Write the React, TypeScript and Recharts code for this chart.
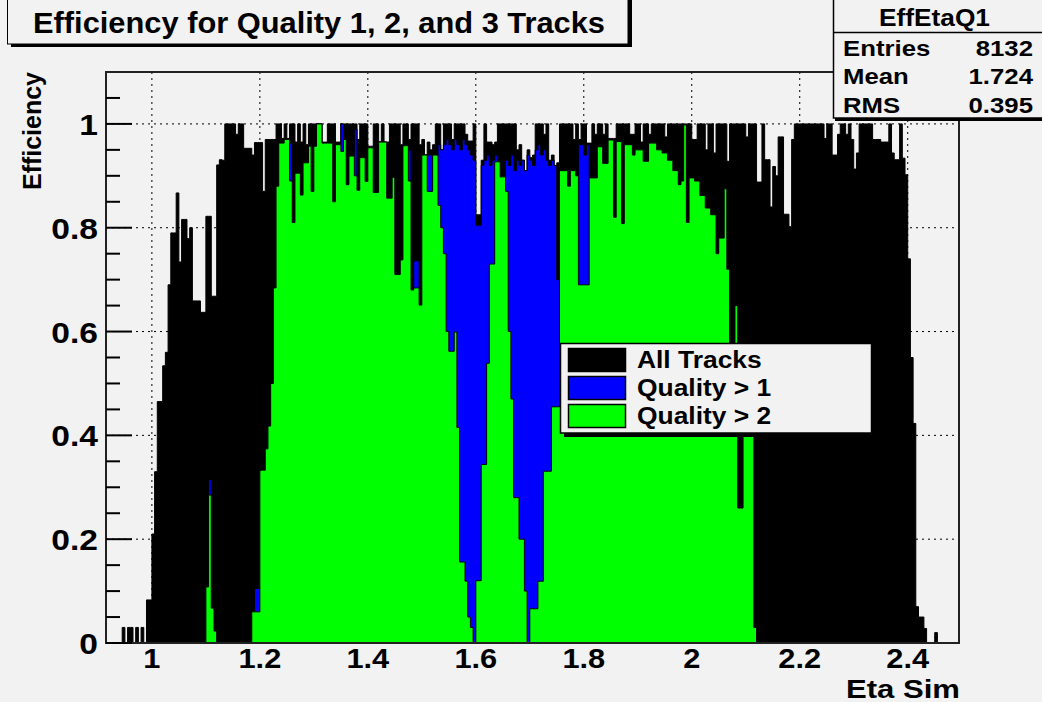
import React from 'react';
import { ComposedChart, Area, XAxis, YAxis, CartesianGrid, ReferenceArea } from 'recharts';

// Histogram binning (eta)
const BIN_START = 0.915;
const BIN_WIDTH = 0.005;
const X_END = 2.495;

// All Tracks efficiency per bin
const allTracks: number[] = [
  0, 0, 0, 0, 0, 0, 0.03, 0, 0.03, 0.03,
  0, 0.03, 0, 0.03, 0, 0.083, 0.083, 0.21, 0.33, 0.465,
  0.465, 0.534, 0.56, 0.69, 0.79, 0.79, 0.867, 0.734, 0.816, 0.816,
  0.779, 0.8, 0.659, 0.659, 0.659, 0.637, 0.637, 0.822, 0.822, 0.668,
  0.668, 0.921, 0.931, 0.93, 1, 1, 1, 1, 0.98, 1,
  1, 0.953, 0.953, 0.953, 0.94, 0.964, 0.964, 0.964, 0.87, 0.97,
  0.97, 0.97, 0.97, 1, 1, 0.972, 1, 0.972, 1, 1,
  0.965, 1, 0.965, 1, 0.96, 1, 1, 1, 1, 1,
  0.965, 0.965, 1, 1, 1, 0.965, 0.965, 1, 1, 1,
  1, 1, 1, 0.97, 1, 1, 1, 0.957, 0.957, 1,
  1, 0.965, 1, 0.965, 0.965, 1, 1, 1, 1, 0.96,
  1, 1, 0.97, 1, 1, 1, 0.96, 0.97, 0.94, 0.965,
  0.95, 0.96, 1, 1, 0.95, 1, 1, 1, 0.97, 1,
  1, 1, 1, 0.98, 0.967, 0.967, 1, 0.825, 0.825, 0.93,
  1, 0.965, 0.965, 0.96, 0.965, 1, 1, 1, 1, 1,
  1, 1, 0.95, 0.96, 0.93, 0.91, 0.95, 0.935, 0.94, 1,
  1, 1, 0.98, 1, 0.93, 0.94, 0.92, 0.925, 1, 1,
  1, 1, 1, 0.97, 1, 0.97, 1, 1, 0.963, 0.963,
  1, 0.98, 1, 1, 0.98, 1, 0.972, 0.972, 0.972, 1,
  1, 1, 1, 1, 0.98, 0.98, 1, 1, 0.965, 1,
  1, 0.98, 1, 1, 1, 1, 1, 0.975, 1, 1,
  1, 1, 1, 1, 1, 1, 1, 0.97, 0.97, 1,
  1, 1, 0.95, 1, 1, 0.944, 1, 1, 1, 1,
  0.928, 1, 1, 1, 1, 1, 1, 0.975, 1, 1,
  1, 0.888, 0.888, 1, 0.931, 0.931, 0.84, 0.918, 0.9, 0.975,
  0.975, 0.826, 0.826, 0.802, 0.97, 1, 1, 1, 1, 1,
  1, 1, 1, 1, 1, 1, 0.972, 1, 1, 0.94,
  0.94, 0.98, 1, 1, 0.98, 1, 0.97, 0.913, 0.944, 1,
  1, 1, 1, 1, 0.97, 0.97, 0.97, 0.965, 0.965, 0.965,
  1, 0.944, 0.931, 0.931, 1, 0.934, 0.902, 0.74, 0.55, 0.423,
  0.07, 0.05, 0.05, 0.028, 0, 0, 0, 0.02, 0, 0,
  0, 0, 0, 0, 0, 0,
];

// Quality > 1 efficiency per bin
const qualityAbove1: number[] = [
  0, 0, 0, 0, 0, 0, 0, 0, 0, 0,
  0, 0, 0, 0, 0, 0, 0, 0, 0, 0,
  0, 0, 0, 0, 0, 0, 0, 0, 0, 0,
  0, 0, 0, 0, 0, 0, 0, 0.108, 0.315, 0.067,
  0.023, 0, 0, 0, 0, 0, 0, 0, 0, 0,
  0, 0, 0, 0, 0.06, 0.105, 0.105, 0.333, 0.333, 0.374,
  0.418, 0.5, 0.684, 0.88, 0.963, 0.963, 0.97, 0.97, 0.963, 0.81,
  0.905, 0.905, 0.863, 0.925, 0.925, 0.957, 0.87, 0.957, 1, 1,
  0.963, 0.963, 0.963, 0.963, 0.85, 0.96, 0.96, 1, 0.97, 0.883,
  0.938, 0.938, 0.99, 0.872, 0.935, 0.935, 0.889, 0.954, 0.954, 0.868,
  0.868, 0.965, 0.965, 0.965, 0.857, 0.857, 0.897, 0.71, 0.71, 0.738,
  0.958, 0.958, 0.95, 0.68, 0.736, 0.736, 0.651, 0.94, 0.94, 0.94,
  0.94, 0.94, 0.94, 0.96, 0.95, 0.96, 0.97, 0.96, 0.95, 0.97,
  0.96, 0.95, 0.97, 0.96, 0.95, 0.94, 0.93, 0.805, 0.805, 0.92,
  0.93, 0.94, 0.92, 0.93, 0.94, 0.927, 0.898, 0.898, 0.93, 0.92,
  0.94, 0.91, 0.93, 0.92, 0.93, 0.91, 0.94, 0.93, 0.92, 0.95,
  0.96, 0.94, 0.95, 0.93, 0.92, 0.93, 0.92, 0.7, 0.91, 0.91,
  0.91, 0.88, 0.91, 0.91, 0.9, 0.96, 0.96, 0.94, 0.96, 0.896,
  0.896, 0.896, 0.956, 0.956, 0.924, 0.924, 0.969, 0.969, 0.82, 0.966,
  0.966, 0.808, 0.96, 0.96, 0.96, 0.94, 0.95, 0.95, 0.95, 0.928,
  0.928, 0.963, 0.963, 0.963, 0.95, 0.95, 0.944, 0.944, 0.93, 0.93,
  0.91, 0.91, 0.883, 0.89, 0.998, 0.81, 0.896, 0.896, 0.89, 0.89,
  0.862, 0.862, 0.838, 0.838, 0.825, 0.825, 0.75, 0.78, 0.78, 0.875,
  0.72, 0.5, 0.5, 0.65, 0.26, 0.26, 0.5, 0.5, 0.5, 0.5,
  0.03, 0, 0, 0, 0, 0, 0, 0, 0, 0,
  0, 0, 0, 0, 0, 0, 0, 0, 0, 0,
  0, 0, 0, 0, 0, 0, 0, 0, 0, 0,
  0, 0, 0, 0, 0, 0, 0, 0, 0, 0,
  0, 0, 0, 0, 0, 0, 0, 0, 0, 0,
  0, 0, 0, 0, 0, 0, 0, 0, 0, 0,
  0, 0, 0, 0, 0, 0, 0, 0, 0, 0,
  0, 0, 0, 0, 0, 0,
];

// Quality > 2 efficiency per bin
const qualityAbove2: number[] = [
  0, 0, 0, 0, 0, 0, 0, 0, 0, 0,
  0, 0, 0, 0, 0, 0, 0, 0, 0, 0,
  0, 0, 0, 0, 0, 0, 0, 0, 0, 0,
  0, 0, 0, 0, 0, 0, 0, 0.108, 0.285, 0.067,
  0.023, 0, 0, 0, 0, 0, 0, 0, 0, 0,
  0, 0, 0, 0, 0.06, 0.06, 0.06, 0.333, 0.333, 0.374,
  0.418, 0.5, 0.684, 0.88, 0.963, 0.963, 0.97, 0.97, 0.89, 0.81,
  0.905, 0.905, 0.863, 0.925, 0.925, 0.957, 0.87, 0.957, 1, 1,
  0.963, 0.963, 0.963, 0.963, 0.85, 0.96, 0.96, 0.947, 0.97, 0.883,
  0.938, 0.938, 0.9, 0.872, 0.935, 0.935, 0.889, 0.954, 0.954, 0.868,
  0.868, 0.965, 0.965, 0.965, 0.857, 0.857, 0.897, 0.71, 0.71, 0.738,
  0.958, 0.958, 0.89, 0.68, 0.684, 0.684, 0.651, 0.94, 0.94, 0.87,
  0.87, 0.94, 0.94, 0.843, 0.8, 0.75, 0.6, 0.562, 0.562, 0.599,
  0.415, 0.156, 0.156, 0.119, 0.05, 0.03, 0, 0.12, 0.12, 0.344,
  0.344, 0.539, 0.73, 0.73, 0.927, 0.927, 0.898, 0.898, 0.87, 0.6,
  0.47, 0.28, 0.28, 0.2, 0.2, 0.1, 0, 0.066, 0.066, 0.066,
  0.119, 0.119, 0.331, 0.331, 0.331, 0.455, 0.455, 0.455, 0.91, 0.91,
  0.91, 0.88, 0.91, 0.91, 0.9, 0.69, 0.69, 0.69, 0.69, 0.896,
  0.896, 0.896, 0.956, 0.956, 0.924, 0.924, 0.969, 0.969, 0.82, 0.966,
  0.966, 0.808, 0.96, 0.96, 0.96, 0.94, 0.95, 0.95, 0.95, 0.928,
  0.928, 0.963, 0.963, 0.963, 0.95, 0.95, 0.944, 0.944, 0.93, 0.93,
  0.91, 0.91, 0.883, 0.89, 0.998, 0.81, 0.896, 0.896, 0.89, 0.89,
  0.862, 0.862, 0.838, 0.838, 0.825, 0.825, 0.75, 0.78, 0.78, 0.875,
  0.72, 0.5, 0.5, 0.65, 0.26, 0.26, 0.5, 0.5, 0.5, 0.5,
  0.03, 0, 0, 0, 0, 0, 0, 0, 0, 0,
  0, 0, 0, 0, 0, 0, 0, 0, 0, 0,
  0, 0, 0, 0, 0, 0, 0, 0, 0, 0,
  0, 0, 0, 0, 0, 0, 0, 0, 0, 0,
  0, 0, 0, 0, 0, 0, 0, 0, 0, 0,
  0, 0, 0, 0, 0, 0, 0, 0, 0, 0,
  0, 0, 0, 0, 0, 0, 0, 0, 0, 0,
  0, 0, 0, 0, 0, 0,
];

const xTicks = [1, 1.2, 1.4, 1.6, 1.8, 2, 2.2, 2.4];
const xTickLabels = ['1', '1.2', '1.4', '1.6', '1.8', '2', '2.2', '2.4'];
const yMajor = [0, 0.2, 0.4, 0.6, 0.8, 1];
const yMajorLabels = ['0', '0.2', '0.4', '0.6', '0.8', '1'];
const yTicks = [0, 0.05, 0.1, 0.15, 0.2, 0.25, 0.3, 0.35, 0.4, 0.45, 0.5, 0.55, 0.6, 0.65, 0.7, 0.75, 0.8, 0.85, 0.9, 0.95, 1, 1.05];
const gridY = [0.2, 0.4, 0.6, 0.8, 1];

const legendLabels = ['All Tracks', 'Quality > 1', 'Quality > 2'];
const seriesKeys = ['all', 'q1', 'q2'];
const seriesColors = ['#000000', '#0000ff', '#00ff00'];
const chartTitle = 'Efficiency for Quality 1, 2, and 3 Tracks';
const statsTitle = 'EffEtaQ1';
const statsNames = ['Entries', 'Mean', 'RMS'];
const statsValues = ['8132', '1.724', '0.395'];
const xAxisTitle = 'Eta Sim';
const yAxisTitle = 'Efficiency';

const FONT = '"Liberation Sans", Arial, Helvetica, sans-serif';
const BG = '#f2f2f2';

const data = allTracks.map((v, i) => ({
  x: Math.round((BIN_START + i * BIN_WIDTH) * 10000) / 10000,
  all: v,
  q1: qualityAbove1[i],
  q2: qualityAbove2[i],
}));
data.push({
  x: X_END,
  all: allTracks[allTracks.length - 1],
  q1: qualityAbove1[qualityAbove1.length - 1],
  q2: qualityAbove2[qualityAbove2.length - 1],
});

const TICK_GAP = 8;

function renderYTick(props: any) {
  const { x, y, payload } = props;
  const v = Number(payload.value);
  const idx = yMajor.findIndex((m) => Math.abs(m - v) < 1e-6);
  const ax = x + TICK_GAP;
  const len = idx >= 0 ? 26 : 14;
  return (
    <g>
      <line x1={ax} x2={ax + len} y1={y} y2={y} stroke="#000" strokeWidth={2} />
      {idx >= 0 && (
        <text
          transform={`translate(${ax - 8},${y + 11}) scale(1.12,1)`}
          textAnchor="end"
          fontSize={30}
          fontWeight="bold"
          fontFamily={FONT}
          fill="#000"
        >
          {yMajorLabels[idx]}
        </text>
      )}
    </g>
  );
}

function renderXTick(props: any) {
  const { x, y, payload } = props;
  const v = Number(payload.value);
  const idx = xTicks.findIndex((m) => Math.abs(m - v) < 1e-6);
  return (
    <text
      transform={`translate(${x},${y + 25}) scale(1.1,1)`}
      textAnchor="middle"
      fontSize={28}
      fontWeight="bold"
      fontFamily={FONT}
      fill="#000"
    >
      {idx >= 0 ? xTickLabels[idx] : ''}
    </text>
  );
}

export default function App() {
  return (
    <div style={{ position: 'fixed', left: 0, top: 0, width: 1042, height: 702, background: BG, overflow: 'hidden' }}>
      <ComposedChart
        width={1042}
        height={702}
        data={data}
        margin={{ top: 72, right: 83, bottom: 0, left: 0 }}
      >
        <CartesianGrid
          stroke="#000"
          strokeDasharray="2 4"
          horizontalValues={gridY}
          verticalValues={xTicks}
        />
        <XAxis
          type="number"
          dataKey="x"
          domain={[BIN_START, X_END]}
          ticks={xTicks}
          interval={0}
          height={59}
          tickLine={false}
          axisLine={false}
          tickSize={0}
          tickMargin={0}
          tick={renderXTick}
          allowDataOverflow
        />
        <YAxis
          type="number"
          domain={[0, 1.1]}
          ticks={yTicks}
          interval={0}
          width={106}
          tickLine={false}
          axisLine={false}
          tickSize={0}
          tickMargin={TICK_GAP}
          tick={renderYTick}
          allowDataOverflow
        />
        {seriesKeys.map((k, i) => (
          <Area
            key={k}
            type="stepAfter"
            dataKey={k}
            stroke="#000"
            strokeWidth={1}
            fill={seriesColors[i]}
            fillOpacity={1}
            isAnimationActive={false}
            dot={false}
            activeDot={false}
          />
        ))}
        <ReferenceArea
          x1={BIN_START}
          x2={X_END}
          y1={0}
          y2={1.1}
          fill="none"
          fillOpacity={0}
          stroke="#222"
          strokeWidth={2}
          ifOverflow="visible"
        />
      </ComposedChart>
      <svg
        width={1042}
        height={702}
        style={{ position: 'absolute', left: 0, top: 0, pointerEvents: 'none' }}
        fontFamily={FONT}
        fontWeight="bold"
      >
        {/* Title box */}
        <rect x={11} y={-3} width={621} height={50} fill="#000" />
        <rect x={7.5} y={-6} width={620.5} height={50} fill={BG} stroke="#000" strokeWidth={1} />
        <text x={33} y={33} fontSize={29} textLength={572} lengthAdjust="spacingAndGlyphs" fill="#000">
          {chartTitle}
        </text>

        {/* Stats box */}
        <rect x={835} y={-3} width={215} height={124} fill="#000" />
        <rect x={833.5} y={-6} width={215} height={124} fill={BG} stroke="#000" strokeWidth={1.5} />
        <line x1={834} x2={1042} y1={32.5} y2={32.5} stroke="#000" strokeWidth={1.5} />
        <text x={879} y={26} fontSize={23} textLength={111} lengthAdjust="spacingAndGlyphs" fill="#000">
          {statsTitle}
        </text>
        {statsNames.map((n, i) => (
          <g key={n}>
            <text x={843} y={56 + i * 28.5} fontSize={23} fill="#000" transform={`translate(${843 * -0.12},0) scale(1.12,1)`}>
              {n}
            </text>
            <text
              x={1033}
              y={56 + i * 28.5}
              fontSize={23}
              textAnchor="end"
              fill="#000"
              transform={`translate(${1033 * -0.12},0) scale(1.12,1)`}
            >
              {statsValues[i]}
            </text>
          </g>
        ))}

        {/* Legend */}
        <rect x={564} y={347} width={311} height={90} fill="#000" />
        <rect x={560.5} y={343.5} width={311} height={89.5} fill={BG} stroke="#000" strokeWidth={1.5} />
        {legendLabels.map((l, i) => (
          <g key={l}>
            <rect x={568.5} y={348.5 + i * 28} width={57} height={23} fill={seriesColors[i]} stroke="#000" strokeWidth={1.5} />
            <text
              x={637}
              y={368 + i * 28}
              fontSize={24}
              fill="#000"
              transform={`translate(${637 * -0.1},0) scale(1.1,1)`}
            >
              {l}
            </text>
          </g>
        ))}

        {/* Axis titles */}
        <text x={846} y={697.5} fontSize={26} textLength={114} lengthAdjust="spacingAndGlyphs" fill="#000">
          {xAxisTitle}
        </text>
        <text
          transform="translate(41,190) rotate(-90)"
          x={0}
          y={0}
          fontSize={25}
          textLength={118}
          lengthAdjust="spacingAndGlyphs"
          fill="#000"
        >
          {yAxisTitle}
        </text>
      </svg>
    </div>
  );
}
